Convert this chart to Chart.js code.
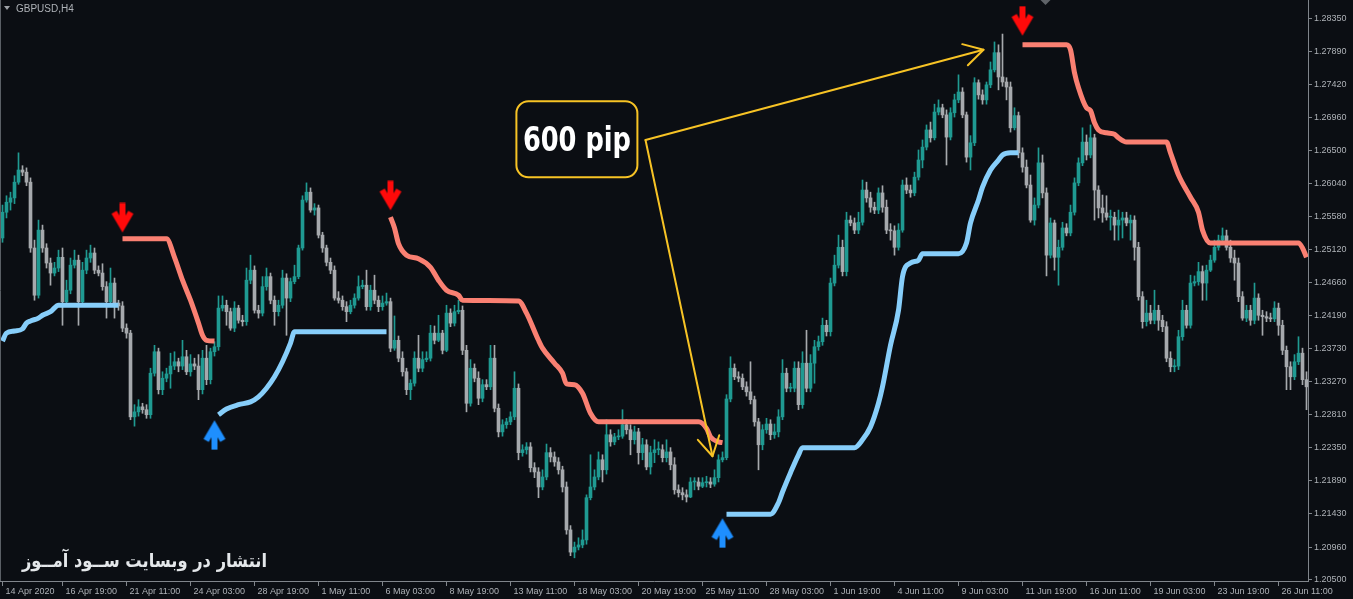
<!DOCTYPE html>
<html>
<head>
<meta charset="utf-8">
<title>GBPUSD,H4</title>
<script src="https://cdn.jsdelivr.net/npm/chart.js@4.4.1/dist/chart.umd.min.js"></script>
<style>
html,body{margin:0;padding:0;background:#0b0e13;overflow:hidden;}
canvas{display:block;}
</style>
</head>
<body>
<canvas id="chart" width="1353" height="599"></canvas>
<script>
// ---------- DATA (GBPUSD H4, one entry per bar) ----------
const opens = [1.2528,1.2564,1.2578,1.2584,1.2606,1.2623,1.2620,1.2606,1.2514,1.2448,
1.2539,1.2514,1.2493,1.2479,1.2486,1.2501,1.2439,1.2455,1.2490,1.2497,
1.2439,1.2483,1.2500,1.2507,1.2483,1.2479,1.2460,1.2439,1.2465,1.2437,
1.2433,1.2402,1.2395,1.2278,1.2285,1.2292,1.2288,1.2281,1.2339,1.2369,
1.2316,1.2332,1.2338,1.2349,1.2355,1.2349,1.2362,1.2341,1.2352,1.2349,
1.2316,1.2360,1.2330,1.2369,1.2376,1.2430,1.2434,1.2425,1.2402,1.2430,
1.2413,1.2411,1.2469,1.2483,1.2427,1.2423,1.2460,1.2474,1.2441,1.2425,
1.2434,1.2472,1.2444,1.2467,1.2474,1.2514,1.2581,1.2592,1.2567,1.2570,
1.2532,1.2514,1.2494,1.2483,1.2444,1.2441,1.2432,1.2425,1.2434,1.2444,
1.2460,1.2462,1.2432,1.2455,1.2441,1.2432,1.2437,1.2439,1.2374,1.2385,
1.2360,1.2341,1.2316,1.2325,1.2360,1.2346,1.2358,1.2360,1.2395,1.2385,
1.2395,1.2371,1.2423,1.2409,1.2425,1.2427,1.2371,1.2297,1.2346,1.2332,
1.2304,1.2323,1.2320,1.2360,1.2290,1.2257,1.2267,1.2271,1.2278,1.2318,
1.2228,1.2232,1.2236,1.2207,1.2201,1.2180,1.2194,1.2228,1.2222,1.2215,
1.2204,1.2180,1.2120,1.2089,1.2096,1.2099,1.2106,1.2165,1.2180,1.2194,
1.2218,1.2204,1.2253,1.2243,1.2250,1.2251,1.2267,1.2260,1.2246,1.2257,
1.2228,1.2239,1.2208,1.2228,1.2232,1.2232,1.2221,1.2229,1.2211,1.2176,
1.2172,1.2169,1.2166,1.2187,1.2187,1.2181,1.2186,1.2187,1.2184,1.2193,
1.2218,1.2221,1.2303,1.2346,1.2334,1.2332,1.2320,1.2313,1.2302,1.2271,
1.2239,1.2260,1.2268,1.2253,1.2257,1.2278,1.2339,1.2318,1.2318,1.2346,
1.2295,1.2353,1.2318,1.2353,1.2376,1.2383,1.2406,1.2397,1.2465,1.2490,
1.2515,1.2481,1.2553,1.2549,1.2539,1.2550,1.2595,1.2584,1.2571,1.2567,
1.2591,1.2571,1.2539,1.2538,1.2515,1.2539,1.2602,1.2595,1.2591,1.2613,
1.2637,1.2655,1.2679,1.2668,1.2704,1.2710,1.2700,1.2669,1.2703,1.2721,
1.2732,1.2700,1.2641,1.2661,1.2745,1.2728,1.2721,1.2742,1.2763,1.2787,
1.2753,1.2746,1.2739,1.2682,1.2699,1.2647,1.2627,1.2602,1.2553,1.2574,
1.2633,1.2591,1.2504,1.2549,1.2501,1.2515,1.2542,1.2535,1.2564,1.2605,
1.2633,1.2662,1.2644,1.2668,1.2595,1.2570,1.2563,1.2557,1.2557,1.2546,
1.2553,1.2556,1.2549,1.2553,1.2515,1.2446,1.2411,1.2423,1.2413,1.2427,
1.2413,1.2404,1.2360,1.2348,1.2349,1.2390,1.2427,1.2406,1.2465,1.2467,
1.2481,1.2465,1.2483,1.2497,1.2515,1.2525,1.2531,1.2515,1.2500,1.2493,
1.2446,1.2416,1.2427,1.2413,1.2444,1.2420,1.2418,1.2416,1.2415,1.2430,
1.2406,1.2371,1.2348,1.2334,1.2355,1.2367,1.2330];

const highs = [1.2574,1.2587,1.2592,1.2615,1.2647,1.2629,1.2626,1.2612,1.2525,1.2553,
1.2546,1.2520,1.2500,1.2494,1.2511,1.2514,1.2469,1.2500,1.2511,1.2504,
1.2494,1.2511,1.2518,1.2514,1.2489,1.2492,1.2467,1.2486,1.2472,1.2441,
1.2439,1.2408,1.2399,1.2295,1.2302,1.2297,1.2295,1.2346,1.2378,1.2374,
1.2341,1.2346,1.2367,1.2369,1.2360,1.2385,1.2371,1.2365,1.2360,1.2365,
1.2371,1.2378,1.2374,1.2383,1.2447,1.2447,1.2441,1.2430,1.2439,1.2434,
1.2420,1.2486,1.2504,1.2489,1.2434,1.2474,1.2486,1.2479,1.2447,1.2441,
1.2483,1.2478,1.2472,1.2490,1.2518,1.2587,1.2605,1.2598,1.2576,1.2574,
1.2536,1.2518,1.2500,1.2489,1.2453,1.2447,1.2439,1.2441,1.2450,1.2475,
1.2469,1.2483,1.2462,1.2476,1.2447,1.2447,1.2451,1.2444,1.2419,1.2391,
1.2369,1.2346,1.2330,1.2369,1.2392,1.2369,1.2369,1.2406,1.2405,1.2420,
1.2399,1.2434,1.2429,1.2434,1.2441,1.2433,1.2378,1.2358,1.2352,1.2341,
1.2330,1.2330,1.2378,1.2378,1.2296,1.2274,1.2276,1.2285,1.2341,1.2324,
1.2239,1.2242,1.2242,1.2214,1.2207,1.2204,1.2240,1.2235,1.2229,1.2221,
1.2209,1.2187,1.2126,1.2103,1.2109,1.2120,1.2169,1.2225,1.2204,1.2229,
1.2225,1.2274,1.2260,1.2255,1.2260,1.2288,1.2274,1.2267,1.2265,1.2262,
1.2248,1.2246,1.2237,1.2246,1.2243,1.2239,1.2246,1.2235,1.2221,1.2183,
1.2179,1.2176,1.2193,1.2193,1.2193,1.2193,1.2195,1.2193,1.2204,1.2225,
1.2229,1.2309,1.2362,1.2352,1.2341,1.2338,1.2327,1.2355,1.2307,1.2276,
1.2267,1.2276,1.2274,1.2268,1.2288,1.2358,1.2346,1.2325,1.2355,1.2355,
1.2369,1.2399,1.2365,1.2385,1.2391,1.2416,1.2413,1.2472,1.2504,1.2532,
1.2525,1.2564,1.2559,1.2556,1.2564,1.2609,1.2606,1.2592,1.2578,1.2598,
1.2601,1.2581,1.2548,1.2545,1.2548,1.2609,1.2612,1.2602,1.2620,1.2651,
1.2665,1.2686,1.2690,1.2715,1.2721,1.2715,1.2707,1.2710,1.2729,1.2756,
1.2738,1.2704,1.2671,1.2752,1.2749,1.2735,1.2746,1.2774,1.2802,1.2798,
1.2813,1.2752,1.2746,1.2710,1.2704,1.2654,1.2637,1.2616,1.2584,1.2654,
1.2644,1.2598,1.2556,1.2553,1.2525,1.2550,1.2548,1.2574,1.2612,1.2640,
1.2682,1.2672,1.2686,1.2673,1.2601,1.2588,1.2587,1.2567,1.2564,1.2567,
1.2564,1.2564,1.2560,1.2559,1.2522,1.2453,1.2441,1.2434,1.2455,1.2434,
1.2420,1.2411,1.2369,1.2358,1.2399,1.2441,1.2434,1.2476,1.2475,1.2494,
1.2489,1.2490,1.2504,1.2525,1.2532,1.2542,1.2539,1.2525,1.2511,1.2500,
1.2453,1.2434,1.2434,1.2465,1.2450,1.2427,1.2425,1.2423,1.2439,1.2437,
1.2413,1.2377,1.2355,1.2365,1.2390,1.2374,1.2341];

const lows = [1.2522,1.2556,1.2567,1.2576,1.2603,1.2615,1.2601,1.2508,1.2441,1.2444,
1.2508,1.2486,1.2462,1.2475,1.2481,1.2406,1.2433,1.2450,1.2486,1.2406,
1.2434,1.2478,1.2494,1.2478,1.2475,1.2455,1.2416,1.2434,1.2416,1.2427,
1.2397,1.2388,1.2274,1.2265,1.2279,1.2283,1.2276,1.2276,1.2335,1.2310,
1.2309,1.2327,1.2318,1.2344,1.2341,1.2344,1.2337,1.2335,1.2344,1.2302,
1.2310,1.2323,1.2324,1.2363,1.2371,1.2426,1.2406,1.2399,1.2397,1.2409,
1.2405,1.2406,1.2464,1.2423,1.2416,1.2419,1.2455,1.2436,1.2406,1.2419,
1.2430,1.2392,1.2439,1.2464,1.2471,1.2511,1.2578,1.2564,1.2560,1.2528,
1.2508,1.2489,1.2478,1.2441,1.2437,1.2427,1.2411,1.2422,1.2430,1.2441,
1.2457,1.2427,1.2427,1.2436,1.2425,1.2427,1.2434,1.2369,1.2371,1.2355,
1.2335,1.2309,1.2302,1.2321,1.2341,1.2341,1.2355,1.2356,1.2380,1.2383,
1.2366,1.2369,1.2404,1.2405,1.2422,1.2365,1.2285,1.2293,1.2327,1.2295,
1.2299,1.2316,1.2316,1.2285,1.2250,1.2251,1.2262,1.2267,1.2274,1.2218,
1.2223,1.2226,1.2201,1.2193,1.2165,1.2176,1.2190,1.2215,1.2209,1.2198,
1.2173,1.2114,1.2084,1.2081,1.2092,1.2095,1.2100,1.2162,1.2176,1.2190,
1.2187,1.2198,1.2237,1.2239,1.2246,1.2248,1.2254,1.2225,1.2240,1.2212,
1.2218,1.2204,1.2198,1.2214,1.2225,1.2215,1.2215,1.2204,1.2170,1.2166,
1.2162,1.2159,1.2165,1.2176,1.2176,1.2179,1.2180,1.2179,1.2181,1.2187,
1.2215,1.2218,1.2299,1.2330,1.2327,1.2316,1.2307,1.2296,1.2265,1.2204,
1.2232,1.2255,1.2246,1.2248,1.2250,1.2274,1.2313,1.2313,1.2313,1.2288,
1.2290,1.2313,1.2313,1.2325,1.2371,1.2378,1.2391,1.2391,1.2461,1.2486,
1.2475,1.2475,1.2545,1.2534,1.2534,1.2546,1.2578,1.2564,1.2562,1.2562,
1.2564,1.2534,1.2525,1.2504,1.2511,1.2536,1.2590,1.2585,1.2587,1.2609,
1.2626,1.2651,1.2662,1.2665,1.2700,1.2696,1.2630,1.2665,1.2697,1.2717,
1.2696,1.2634,1.2623,1.2657,1.2722,1.2715,1.2715,1.2738,1.2760,1.2735,
1.2740,1.2721,1.2676,1.2679,1.2640,1.2620,1.2598,1.2550,1.2546,1.2570,
1.2584,1.2475,1.2500,1.2483,1.2462,1.2511,1.2531,1.2531,1.2560,1.2601,
1.2629,1.2637,1.2640,1.2553,1.2556,1.2550,1.2553,1.2539,1.2525,1.2525,
1.2528,1.2545,1.2525,1.2497,1.2441,1.2402,1.2405,1.2408,1.2408,1.2399,
1.2397,1.2355,1.2341,1.2341,1.2344,1.2385,1.2402,1.2402,1.2461,1.2462,
1.2441,1.2441,1.2481,1.2494,1.2511,1.2520,1.2511,1.2494,1.2469,1.2439,
1.2413,1.2411,1.2406,1.2408,1.2413,1.2392,1.2411,1.2411,1.2411,1.2392,
1.2365,1.2316,1.2316,1.2330,1.2351,1.2323,1.2288];

const closes = [1.2564,1.2578,1.2584,1.2606,1.2623,1.2620,1.2606,1.2514,1.2448,1.2539,
1.2514,1.2493,1.2479,1.2486,1.2501,1.2439,1.2455,1.2490,1.2497,1.2439,
1.2483,1.2500,1.2507,1.2483,1.2479,1.2460,1.2439,1.2465,1.2437,1.2433,
1.2402,1.2395,1.2278,1.2285,1.2292,1.2288,1.2281,1.2339,1.2369,1.2316,
1.2332,1.2338,1.2349,1.2355,1.2349,1.2362,1.2341,1.2352,1.2349,1.2316,
1.2360,1.2330,1.2369,1.2376,1.2430,1.2434,1.2425,1.2402,1.2430,1.2413,
1.2411,1.2469,1.2483,1.2427,1.2423,1.2460,1.2474,1.2441,1.2425,1.2434,
1.2472,1.2444,1.2467,1.2474,1.2514,1.2581,1.2592,1.2567,1.2570,1.2532,
1.2514,1.2494,1.2483,1.2444,1.2441,1.2432,1.2425,1.2434,1.2444,1.2460,
1.2462,1.2432,1.2455,1.2441,1.2432,1.2437,1.2439,1.2374,1.2385,1.2360,
1.2341,1.2316,1.2325,1.2360,1.2346,1.2358,1.2360,1.2395,1.2385,1.2395,
1.2371,1.2423,1.2409,1.2425,1.2427,1.2371,1.2297,1.2346,1.2332,1.2304,
1.2323,1.2320,1.2360,1.2290,1.2257,1.2267,1.2271,1.2278,1.2318,1.2228,
1.2232,1.2236,1.2207,1.2201,1.2180,1.2194,1.2228,1.2222,1.2215,1.2204,
1.2180,1.2120,1.2089,1.2096,1.2099,1.2106,1.2165,1.2180,1.2194,1.2218,
1.2204,1.2253,1.2243,1.2250,1.2251,1.2267,1.2260,1.2246,1.2257,1.2228,
1.2239,1.2208,1.2228,1.2232,1.2232,1.2221,1.2229,1.2211,1.2176,1.2172,
1.2169,1.2166,1.2187,1.2187,1.2181,1.2186,1.2187,1.2184,1.2193,1.2218,
1.2221,1.2303,1.2346,1.2334,1.2332,1.2320,1.2313,1.2302,1.2271,1.2239,
1.2260,1.2268,1.2253,1.2257,1.2278,1.2339,1.2318,1.2318,1.2346,1.2295,
1.2353,1.2318,1.2353,1.2376,1.2383,1.2406,1.2397,1.2465,1.2490,1.2515,
1.2481,1.2553,1.2549,1.2539,1.2550,1.2595,1.2584,1.2571,1.2567,1.2591,
1.2571,1.2539,1.2538,1.2515,1.2539,1.2602,1.2595,1.2591,1.2613,1.2637,
1.2655,1.2679,1.2668,1.2704,1.2710,1.2700,1.2669,1.2703,1.2721,1.2732,
1.2700,1.2641,1.2661,1.2745,1.2728,1.2721,1.2742,1.2763,1.2787,1.2753,
1.2746,1.2739,1.2682,1.2699,1.2647,1.2627,1.2602,1.2553,1.2574,1.2633,
1.2591,1.2504,1.2549,1.2501,1.2515,1.2542,1.2535,1.2564,1.2605,1.2633,
1.2662,1.2644,1.2668,1.2595,1.2570,1.2563,1.2557,1.2557,1.2546,1.2553,
1.2556,1.2549,1.2553,1.2515,1.2446,1.2411,1.2423,1.2413,1.2427,1.2413,
1.2404,1.2360,1.2348,1.2349,1.2390,1.2427,1.2406,1.2465,1.2467,1.2481,
1.2465,1.2483,1.2497,1.2515,1.2525,1.2531,1.2515,1.2500,1.2493,1.2446,
1.2416,1.2427,1.2413,1.2444,1.2420,1.2418,1.2416,1.2415,1.2430,1.2406,
1.2371,1.2348,1.2334,1.2355,1.2367,1.2330,1.2320];

// time-axis labels (bar index -> label)
const xTickBars = [0,15,31,47,63,79,95,111,127,143,159,175,191,207,223,239,255,271,287,303,319];
const xTickLabels = ['14 Apr 2020','16 Apr 19:00','21 Apr 11:00','24 Apr 03:00','28 Apr 19:00','1 May 11:00',
  '6 May 03:00','8 May 19:00','13 May 11:00','18 May 03:00','20 May 19:00','25 May 11:00','28 May 03:00',
  '1 Jun 19:00','4 Jun 11:00','9 Jun 03:00','11 Jun 19:00','16 Jun 11:00','19 Jun 03:00','23 Jun 19:00','26 Jun 11:00'];
// price-axis labels
const yTickValues = [1.2835,1.2789,1.2742,1.2696,1.2650,1.2604,1.2558,1.2512,1.2466,1.2419,1.2373,1.2327,1.2281,1.2235,1.2189,1.2143,1.2096,1.2050];
const yMin = 1.20486, yMax = 1.28606;

// trend-line (stop) segments: bar indices and values
const upSeg1Bars = [0,1,3,5,6,7,9,10,12,14,29];
const upSeg1Vals = [1.2384,1.2395,1.2398,1.2401,1.2409,1.2412,1.2416,1.2420,1.2425,1.2434,1.2434];
const upSeg2Bars = [54,56,59,62,64,66,68,70,72,73,96];
const upSeg2Vals = [1.2281,1.2289,1.2295,1.2299,1.2306,1.2318,1.2334,1.2355,1.2381,1.2397,1.2397];
const upSeg3Bars = [181,192,194,195,197,199,200,213,215,217,219,220,222,224,225,227,229,230,239,241,242,244,245,247,249,250,252,254];
const upSeg3Vals = [1.2142,1.2142,1.2158,1.2173,1.2200,1.2225,1.2235,1.2235,1.2246,1.2264,1.2297,1.2320,1.2378,1.2427,1.2474,1.2493,1.2497,1.2506,1.2506,1.2521,1.2549,1.2581,1.2599,1.2623,1.2637,1.2644,1.2647,1.2647];
const dnSeg1Bars = [30,41,43,45,47,49,50,51,53];
const dnSeg1Vals = [1.2527,1.2527,1.2501,1.2469,1.2441,1.2409,1.2392,1.2385,1.2384];
const dnSeg2Bars = [97,98,99,101,104,107,109,111,114,115,129,131,134,135,138,140,141,143,145,147,149,174,176,177,179,180];
const dnSeg2Vals = [1.2557,1.2542,1.2520,1.2504,1.2499,1.2487,1.2469,1.2455,1.2448,1.2441,1.2440,1.2423,1.2385,1.2374,1.2353,1.2339,1.2324,1.2323,1.2311,1.2283,1.2271,1.2271,1.2262,1.2250,1.2243,1.2242];
const dnSeg3Bars = [255,266,267,268,269,271,272,273,274,276,278,279,281,291,292,294,297,299,300,302,324,325,326];
const dnSeg3Vals = [1.2798,1.2798,1.2791,1.2759,1.2738,1.2710,1.2706,1.2689,1.2679,1.2675,1.2673,1.2668,1.2662,1.2662,1.2647,1.2616,1.2585,1.2564,1.2539,1.2521,1.2521,1.2514,1.2501];

// signal arrows
const sellArrowBars = [30, 97, 255];
const sellArrowPrices = [1.2556, 1.2587, 1.2831];
const buyArrowBars = [53, 180];
const buyArrowPrices = [1.2253, 1.2116];

// annotation anchors (bar, price)
const noteText = '600 pip';
const noteBox = [143.6, 1.2666];
const noteFrom = [160.75, 1.2665];
const noteTargets = [[245.25, 1.2791], [177.5, 1.2223]];

// ---------- STYLE ----------
const BG = '#0b0e13';
const BULL = '#1f9a92';
const BEAR = '#a6a9ad';
const AXIS = '#80858b';
const TXT = '#aeb2b7';
const UP_LINE = '#87cefa';
const DN_LINE = '#fa8072';
const NOTE = '#f7c325';
const FONT = "'Liberation Sans', Arial, sans-serif";

Chart.defaults.font.family = FONT;

const idx = closes.map((_, i) => i);
const candleColors = idx.map(i => closes[i] >= opens[i] ? BULL : BEAR);

function makeArrow(color, up) {
  const c = document.createElement('canvas');
  c.width = 24; c.height = 31;
  const g = c.getContext('2d');
  g.translate(12, 15.5);
  if (up) g.scale(1, -1);
  g.fillStyle = color;
  const pts = [[-3,-15],[3,-15],[3,-2.5],[5.8,-7.3],[11,-4.3],[0,14.5],[-11,-4.3],[-5.8,-7.3],[-3,-2.5]];
  g.beginPath();
  pts.forEach((p, k) => k ? g.lineTo(p[0], p[1]) : g.moveTo(p[0], p[1]));
  g.closePath();
  g.fill();
  return c;
}

const datasets = [];
datasets.push({
  type: 'bar', label: 'wicks',
  data: idx.map(i => ({x: i, y: [lows[i], highs[i]]})),
  backgroundColor: candleColors, borderWidth: 0,
  barThickness: 1, grouped: false, order: 3
});
datasets.push({
  type: 'bar', label: 'bodies',
  data: idx.map(i => ({x: i, y: [opens[i], closes[i]]})),
  backgroundColor: candleColors, borderWidth: 0,
  barThickness: 3, minBarLength: 1, grouped: false, order: 2
});
function addLine(bars, vals, color) {
  datasets.push({
    type: 'line',
    data: bars.map((b, k) => ({x: b, y: vals[k]})),
    borderColor: color, borderWidth: 5, pointRadius: 0, fill: false,
    cubicInterpolationMode: 'monotone', borderCapStyle: 'butt', borderJoinStyle: 'round',
    order: 1
  });
}
addLine(upSeg1Bars, upSeg1Vals, UP_LINE);
addLine(upSeg2Bars, upSeg2Vals, UP_LINE);
addLine(upSeg3Bars, upSeg3Vals, UP_LINE);
addLine(dnSeg1Bars, dnSeg1Vals, DN_LINE);
addLine(dnSeg2Bars, dnSeg2Vals, DN_LINE);
addLine(dnSeg3Bars, dnSeg3Vals, DN_LINE);
datasets.push({
  type: 'scatter',
  data: sellArrowBars.map((b, k) => ({x: b, y: sellArrowPrices[k]})),
  pointStyle: makeArrow('#ff0a0a', false), pointRadius: 10, order: 0
});
datasets.push({
  type: 'scatter',
  data: buyArrowBars.map((b, k) => ({x: b, y: buyArrowPrices[k]})),
  pointStyle: makeArrow('#1e8fff', true), pointRadius: 10, order: 0
});

const bgPlugin = {
  id: 'bg',
  beforeDraw(chart) {
    const ctx = chart.ctx;
    ctx.save();
    ctx.fillStyle = BG;
    ctx.fillRect(0, 0, chart.width, chart.height);
    ctx.restore();
  }
};

function roundRect(ctx, x, y, w, h, r) {
  ctx.beginPath();
  ctx.moveTo(x + r, y);
  ctx.lineTo(x + w - r, y);
  ctx.arcTo(x + w, y, x + w, y + r, r);
  ctx.lineTo(x + w, y + h - r);
  ctx.arcTo(x + w, y + h, x + w - r, y + h, r);
  ctx.lineTo(x + r, y + h);
  ctx.arcTo(x, y + h, x, y + h - r, r);
  ctx.lineTo(x, y + r);
  ctx.arcTo(x, y, x + r, y, r);
  ctx.closePath();
}

// draw text squeezed horizontally to a target width
function fitText(ctx, text, cx, baseline, targetW, align) {
  const w = ctx.measureText(text).width;
  const k = Math.min(1, targetW / w);
  ctx.save();
  ctx.translate(cx, baseline);
  ctx.scale(k, 1);
  ctx.textAlign = align;
  ctx.fillText(text, 0, 0);
  ctx.restore();
}

const overlayPlugin = {
  id: 'overlay',
  afterDatasetsDraw(chart) {
    const {ctx, chartArea: a, scales: {x, y}} = chart;
    ctx.save();
    // left frame line
    ctx.strokeStyle = '#5a5f65';
    ctx.lineWidth = 1;
    ctx.beginPath();
    ctx.moveTo(a.left + 0.5, a.top);
    ctx.lineTo(a.left + 0.5, a.bottom);
    ctx.stroke();

    // chart shift marker
    const sx = x.getPixelForValue(260.75);
    ctx.fillStyle = '#5f6368';
    ctx.beginPath();
    ctx.moveTo(sx - 5, a.top); ctx.lineTo(sx + 5, a.top); ctx.lineTo(sx, a.top + 5);
    ctx.closePath(); ctx.fill();

    // annotation lines with open arrowheads
    const fx = x.getPixelForValue(noteFrom[0]), fy = y.getPixelForValue(noteFrom[1]);
    ctx.strokeStyle = NOTE;
    ctx.lineWidth = 2;
    ctx.lineCap = 'round';
    ctx.lineJoin = 'round';
    noteTargets.forEach(([b, p]) => {
      const tx = x.getPixelForValue(b), ty = y.getPixelForValue(p);
      ctx.beginPath(); ctx.moveTo(fx, fy); ctx.lineTo(tx, ty); ctx.stroke();
      const ang = Math.atan2(fy - ty, fx - tx);
      const L = 22, s = 0.52;
      ctx.beginPath();
      ctx.moveTo(tx + L * Math.cos(ang - s), ty + L * Math.sin(ang - s));
      ctx.lineTo(tx, ty);
      ctx.lineTo(tx + L * Math.cos(ang + s), ty + L * Math.sin(ang + s));
      ctx.stroke();
    });

    // annotation box
    const bx = x.getPixelForValue(noteBox[0]), by = y.getPixelForValue(noteBox[1]);
    roundRect(ctx, bx - 60.5, by - 38, 121, 76, 12);
    ctx.fillStyle = BG;
    ctx.fill();
    ctx.strokeStyle = NOTE;
    ctx.lineWidth = 2;
    ctx.stroke();
    ctx.fillStyle = '#ffffff';
    ctx.font = "bold 34px 'DejaVu Sans Condensed', 'DejaVu Sans', sans-serif";
    ctx.textBaseline = 'alphabetic';
    fitText(ctx, noteText, bx, by + 12, 108, 'center');

    // symbol title
    ctx.fillStyle = '#9ea2a7';
    ctx.beginPath();
    ctx.moveTo(a.left + 4, a.top + 6); ctx.lineTo(a.left + 10, a.top + 6); ctx.lineTo(a.left + 7, a.top + 10);
    ctx.closePath(); ctx.fill();
    ctx.fillStyle = TXT;
    ctx.font = '10px ' + FONT;
    ctx.textAlign = 'left';
    ctx.fillText('GBPUSD,H4', a.left + 16, a.top + 12);

    // watermark
    ctx.fillStyle = '#e4e7ea';
    ctx.font = "bold 19px 'DejaVu Sans', sans-serif";
    ctx.direction = 'rtl';
    fitText(ctx, 'انتشار در وبسایت ســود آمــوز', a.left + 267, a.bottom - 14, 245, 'right');
    ctx.restore();
  }
};

new Chart(document.getElementById('chart'), {
  type: 'bar',
  data: { datasets },
  options: {
    responsive: false,
    animation: false,
    devicePixelRatio: 1,
    events: [],
    layout: { padding: 0, autoPadding: false },
    plugins: { legend: { display: false }, tooltip: { enabled: false }, title: { display: false } },
    scales: {
      x: {
        type: 'linear', position: 'bottom',
        min: -0.625, max: 326.375, offset: false,
        grid: { display: true, drawOnChartArea: false, drawTicks: true, tickLength: 5, color: AXIS, offset: false },
        border: { display: true, color: AXIS, width: 1 },
        ticks: {
          autoSkip: false, maxRotation: 0, minRotation: 0, align: 'start', labelOffset: 3, padding: 0,
          color: TXT, font: { size: 9, family: FONT },
          callback: (v, i) => xTickLabels[i]
        },
        afterBuildTicks: s => { s.ticks = xTickBars.map(v => ({ value: v })); },
        afterFit: s => { s.height = 18; s.paddingLeft = 0; s.paddingRight = 0; }
      },
      y: {
        type: 'linear', position: 'right',
        min: yMin, max: yMax, beginAtZero: false,
        grid: { display: true, drawOnChartArea: false, drawTicks: true, tickLength: 4, color: AXIS },
        border: { display: true, color: AXIS, width: 1 },
        ticks: {
          padding: 2, color: TXT, font: { size: 9, family: FONT },
          callback: v => Number(v).toFixed(5)
        },
        afterBuildTicks: s => { s.ticks = yTickValues.map(v => ({ value: v })); },
        afterFit: s => { s.width = 45; s.paddingTop = 0; s.paddingBottom = 0; }
      }
    }
  },
  plugins: [bgPlugin, overlayPlugin]
});
</script>
</body>
</html>
